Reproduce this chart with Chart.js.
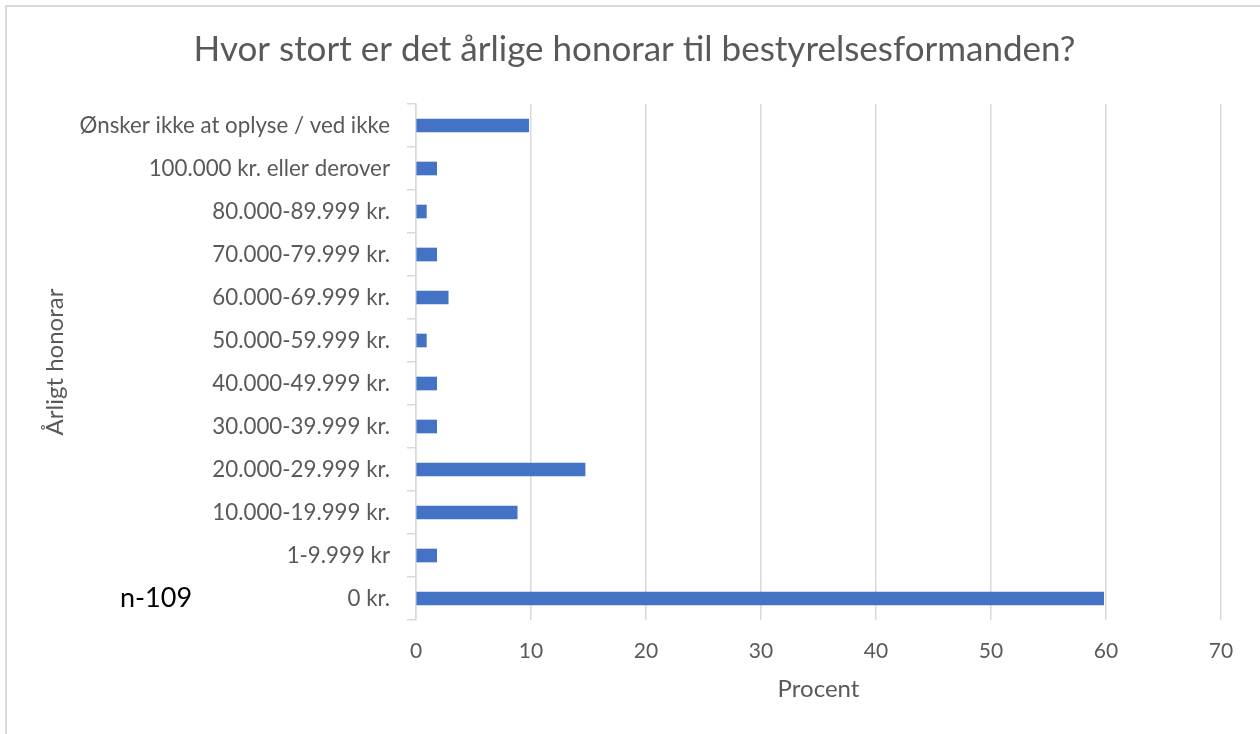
<!DOCTYPE html>
<html>
<head>
<meta charset="utf-8">
<script src="https://cdn.jsdelivr.net/npm/chart.js@4"></script>
<style>
html,body{margin:0;padding:0;background:#fff;}
#wrap{position:relative;width:1260px;height:734px;overflow:hidden;}
#frame{position:absolute;left:5px;top:5px;width:1255px;height:729px;border-top:2px solid #d9d9d9;border-left:2px solid #d9d9d9;box-sizing:border-box;pointer-events:none;}
canvas{position:absolute;left:0;top:0;}
</style>
</head>
<body>
<div id="wrap">
<canvas id="c" width="1260" height="734"></canvas>
<div id="frame"></div>
</div>
<script>
const chartTitle = "Hvor stort er det årlige honorar til bestyrelsesformanden?";
const categories = [
  "Ønsker ikke at oplyse / ved ikke",
  "100.000 kr. eller derover",
  "80.000-89.999 kr.",
  "70.000-79.999 kr.",
  "60.000-69.999 kr.",
  "50.000-59.999 kr.",
  "40.000-49.999 kr.",
  "30.000-39.999 kr.",
  "20.000-29.999 kr.",
  "10.000-19.999 kr.",
  "1-9.999 kr",
  "0 kr."
];
const procent = [9.8, 1.8, 0.9, 1.8, 2.8, 0.9, 1.8, 1.8, 14.7, 8.8, 1.8, 59.8];
const xTitle = "Procent";
const yTitle = "Årligt honorar";
const note = "n-109";

const FONT = "Lato, sans-serif";
const GREY = "#595959";

const notePlugin = {
  id: 'note',
  afterDraw(chart) {
    const ctx = chart.ctx;
    const y = chart.scales.y.getPixelForValue(categories.length - 1);
    ctx.save();
    ctx.font = "27px " + FONT;
    ctx.fillStyle = "#000";
    ctx.textAlign = "left";
    ctx.textBaseline = "middle";
    ctx.fillText(note, 120, y);
    ctx.restore();
  }
};

new Chart(document.getElementById('c'), {
  type: 'bar',
  data: {
    labels: categories,
    datasets: [{
      data: procent,
      backgroundColor: '#4472C4',
      borderWidth: 0,
      barThickness: 13
    }]
  },
  options: {
    indexAxis: 'y',
    responsive: false,
    animation: false,
    layout: { padding: { left: 48, right: 39, top: 0, bottom: 0 } },
    plugins: {
      legend: { display: false },
      tooltip: { enabled: false },
      title: {
        display: true,
        text: chartTitle,
        color: GREY,
        font: { family: FONT, size: 35, weight: 'normal', lineHeight: 1.2 },
        padding: { top: 29, bottom: 33 }
      }
    },
    scales: {
      x: {
        min: 0, max: 70,
        ticks: { stepSize: 10, color: GREY, font: { family: FONT, size: 21 }, padding: 19 },
        grid: { color: '#d9d9d9', lineWidth: 1.5, drawTicks: false },
        border: { display: false },
        title: { display: true, text: xTitle, color: GREY, font: { family: FONT, size: 24, lineHeight: 1.2 }, padding: { top: 0, bottom: 30 } },
        afterFit(scale) { scale.height = 114; }
      },
      y: {
        ticks: { color: GREY, font: { family: FONT, size: 22.3 }, padding: 17 },
        grid: { drawOnChartArea: false, drawTicks: true, tickLength: 9, color: '#d9d9d9', lineWidth: 1.5, offset: true },
        border: { display: true, color: '#d9d9d9', width: 1.5 },
        title: { display: true, text: yTitle, color: GREY, font: { family: FONT, size: 24, lineHeight: 1.2 }, padding: { top: -7, bottom: 0 } },
        afterFit(scale) { scale.width = 416 - 48; }
      }
    }
  },
  plugins: [notePlugin]
});
</script>
</body>
</html>
